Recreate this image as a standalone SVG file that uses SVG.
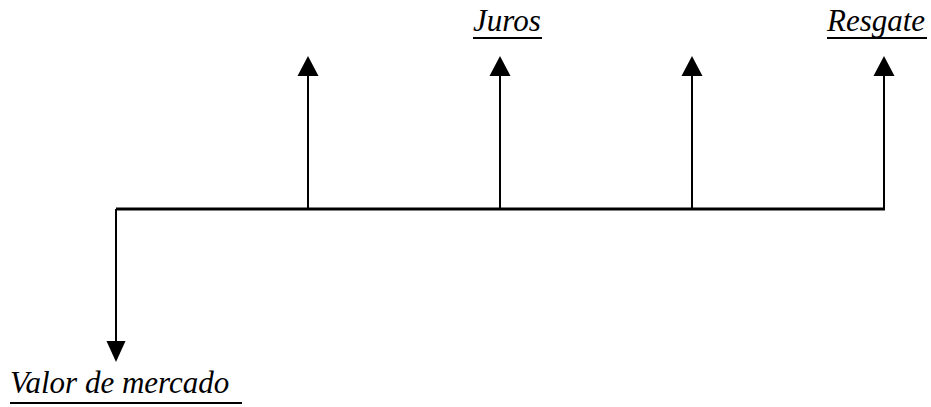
<svg xmlns="http://www.w3.org/2000/svg" width="931" height="407" viewBox="0 0 931 407">
<style>
.lbl{font-family:"Liberation Serif","Times New Roman","DejaVu Serif",serif;font-style:italic;font-size:31px;fill:#000}
.ul{stroke:#000;stroke-width:2}
.ln{stroke:#000;stroke-width:2;fill:none}
.axis{stroke:#000;stroke-width:3;fill:none}
.head{fill:#000}
</style>
<rect width="931" height="407" fill="#fff"/>
<g id="connectors">
<line class="axis" x1="116" y1="209" x2="885" y2="209"/>
<line class="ln" x1="116" y1="209" x2="116" y2="343"/>
<polygon class="head" points="106.5,341 125.5,341 116,362"/>
<line class="ln" x1="308" y1="209" x2="308" y2="74"/>
<polygon class="head" points="297.5,76 318.5,76 308,56"/>
<line class="ln" x1="500" y1="209" x2="500" y2="74"/>
<polygon class="head" points="489.5,76 510.5,76 500,56"/>
<line class="ln" x1="692" y1="209" x2="692" y2="74"/>
<polygon class="head" points="681.5,76 702.5,76 692,56"/>
<line class="ln" x1="884" y1="209" x2="884" y2="74"/>
<polygon class="head" points="873.5,76 894.5,76 884,56"/>
</g>
<g id="juros">
<text class="lbl" x="473" y="31">Juros</text>
<line class="ul" x1="473" y1="38" x2="542" y2="38"/>
</g>
<g id="resgate">
<text class="lbl" x="827" y="31">Resgate</text>
<line class="ul" x1="827" y1="38" x2="927" y2="38"/>
</g>
<g id="valor">
<text class="lbl" x="10" y="393">Valor de mercado</text>
<line class="ul" x1="10" y1="403" x2="242" y2="403"/>
</g>
</svg>
